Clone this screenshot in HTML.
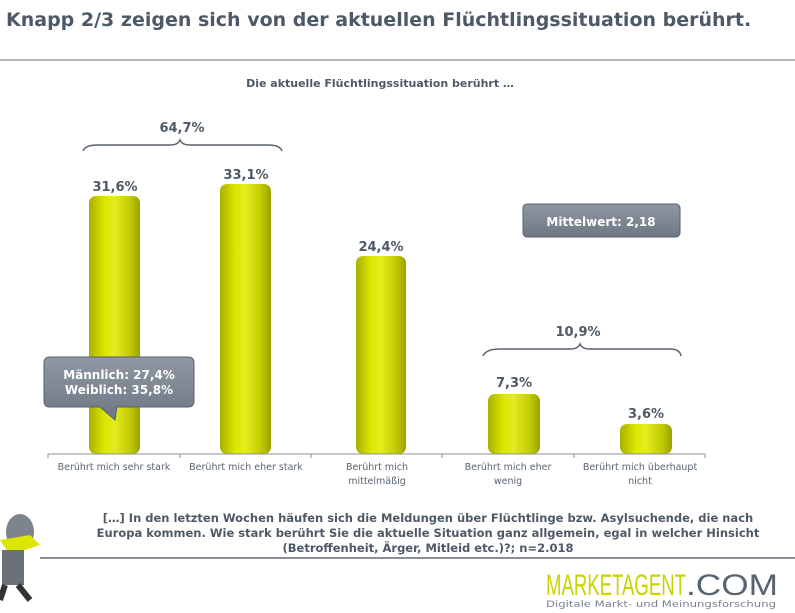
<!DOCTYPE html>
<html><head><meta charset="utf-8"><style>
html,body{margin:0;padding:0;background:#fff;}
svg{display:block;font-family:"DejaVu Sans","Liberation Sans",sans-serif;}
</style></head><body>
<svg width="795" height="613" viewBox="0 0 795 613" xmlns="http://www.w3.org/2000/svg">
<defs>
<linearGradient id="bar" x1="0" x2="1" y1="0" y2="0">
<stop offset="0" stop-color="#a7b000"/>
<stop offset="0.3" stop-color="#dde600"/>
<stop offset="0.5" stop-color="#e4ec20"/>
<stop offset="0.8" stop-color="#c2cb00"/>
<stop offset="1" stop-color="#9aa200"/>
</linearGradient>
<linearGradient id="box" x1="0" x2="0" y1="0" y2="1">
<stop offset="0" stop-color="#8f98a3"/>
<stop offset="1" stop-color="#6d7682"/>
</linearGradient>
</defs>
<text x="6" y="26" font-size="19" font-weight="bold" fill="#4e5967">Knapp 2/3 zeigen sich von der aktuellen Flüchtlingssituation berührt.</text>
<rect x="0" y="59" width="795" height="2" fill="#b0b4b8"/>
<text x="380" y="87" font-size="11" font-weight="bold" fill="#4e5967" text-anchor="middle">Die aktuelle Flüchtlingssituation berührt …</text>

<!-- braces -->
<text x="182" y="132" font-size="13" font-weight="bold" fill="#4e5967" text-anchor="middle">64,7%</text>
<path d="M83 151 Q85 145 98 145 L170 145 Q178 145 180 140 Q182 145 190 145 L268 145 Q280 145 282 151" fill="none" stroke="#5a6470" stroke-width="1.5"/>
<text x="578" y="336" font-size="13" font-weight="bold" fill="#4e5967" text-anchor="middle">10,9%</text>
<path d="M483 356 Q486 349 500 349 L570 349 Q578 349 580 344 Q582 349 590 349 L670 349 Q680 349 681 356" fill="none" stroke="#5a6470" stroke-width="1.5"/>

<!-- bars -->
<g fill="url(#bar)">
<rect x="89" y="196" width="51" height="258" rx="7"/>
<rect x="220" y="184" width="51" height="270" rx="7"/>
<rect x="356" y="256" width="50" height="198" rx="7"/>
<rect x="488" y="394" width="52" height="60" rx="7"/>
<rect x="620" y="424" width="52" height="30" rx="7"/>
</g>
<g font-size="13" font-weight="bold" fill="#4e5967" text-anchor="middle">
<text x="115" y="191">31,6%</text>
<text x="246" y="179">33,1%</text>
<text x="381" y="251">24,4%</text>
<text x="514" y="387">7,3%</text>
<text x="646" y="418">3,6%</text>
</g>
<line x1="48" y1="454" x2="705" y2="454" stroke="#8a9098" stroke-width="1"/>
<g stroke="#8a9098"><line x1="48" y1="454" x2="48" y2="458"/><line x1="180" y1="454" x2="180" y2="458"/><line x1="311" y1="454" x2="311" y2="458"/><line x1="442" y1="454" x2="442" y2="458"/><line x1="574" y1="454" x2="574" y2="458"/><line x1="705" y1="454" x2="705" y2="458"/></g>
<g font-size="9.5" fill="#5a6470" text-anchor="middle">
<text x="114" y="470">Berührt mich sehr stark</text>
<text x="246" y="470">Berührt mich eher stark</text>
<text x="377" y="470">Berührt mich</text><text x="377" y="484">mittelmäßig</text>
<text x="508" y="470">Berührt mich eher</text><text x="508" y="484">wenig</text>
<text x="640" y="470">Berührt mich überhaupt</text><text x="640" y="484">nicht</text>
</g>

<!-- Mittelwert -->
<rect x="523" y="204" width="157" height="33" rx="4" fill="url(#box)" stroke="#5a626c"/>
<text x="601" y="226" font-size="12" font-weight="bold" fill="#fff" text-anchor="middle">Mittelwert: 2,18</text>
<!-- callout -->
<path d="M50 357 L188 357 Q194 357 194 363 L194 401 Q194 407 188 407 L117 407 L115 420 L100 407 L50 407 Q44 407 44 401 L44 363 Q44 357 50 357 Z" fill="url(#box)" stroke="#5a626c"/>
<text x="119" y="379" font-size="12" font-weight="bold" fill="#fff" text-anchor="middle">Männlich: 27,4%</text>
<text x="119" y="394" font-size="12" font-weight="bold" fill="#fff" text-anchor="middle">Weiblich: 35,8%</text>

<!-- question -->
<g font-size="11.5" font-weight="bold" fill="#4e5967" text-anchor="middle">
<text x="428" y="522">[…] In den letzten Wochen häufen sich die Meldungen über Flüchtlinge bzw. Asylsuchende, die nach</text>
<text x="428" y="537">Europa kommen. Wie stark berührt Sie die aktuelle Situation ganz allgemein, egal in welcher Hinsicht</text>
<text x="428" y="552">(Betroffenheit, Ärger, Mitleid etc.)?; n=2.018</text>
</g>
<rect x="40" y="557" width="755" height="2" fill="#8a9098"/>
<!-- mascot approx -->
<ellipse cx="20" cy="532" rx="14" ry="18" fill="#7d848c"/>
<path d="M0 540 L30 535 L40 545 L10 555 Z" fill="#dde600"/>
<rect x="2" y="550" width="22" height="35" fill="#6a7078"/>
<path d="M5 585 L0 600 M18 585 L30 600" stroke="#333" stroke-width="6"/>
<!-- logo -->
<text x="546" y="595" font-size="30" fill="#c8d400" font-family="Liberation Sans Narrow, Liberation Sans, sans-serif" textLength="140" lengthAdjust="spacingAndGlyphs">MARKETAGENT</text>
<text x="686" y="595" font-size="30" fill="#5a6470" font-family="Liberation Sans, sans-serif" textLength="92" lengthAdjust="spacingAndGlyphs">.COM</text>
<text x="546" y="607" font-size="9" fill="#7a828c" textLength="230" lengthAdjust="spacingAndGlyphs">Digitale Markt- und Meinungsforschung</text>
</svg>
</body></html>
